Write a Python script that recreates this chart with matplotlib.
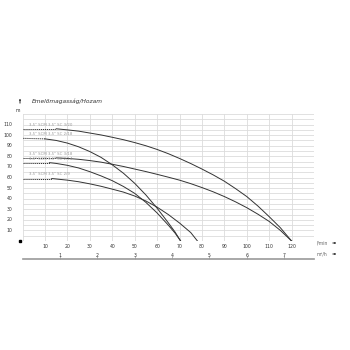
import numpy as np
import matplotlib
matplotlib.use("Agg")
import matplotlib.pyplot as plt

# pump curves, flow in l/min, head in m
labels = ['3,5" SCM 3,5" SC 3/20', '3,5" SCM 3,5" SC 2/18', '3,5" SCM 3,5" SC 3/18',
          '3,5" SCM 3,5" SC 2/14', '3,5" SCM 3,5" SC 2/9']
shutoff = [106, 97, 78.5, 74, 59]
dot_end = [15, 10, 15, 12, 13]

q_a = [15, 20, 25, 30, 35, 40, 45, 50, 55, 60, 65, 70, 75, 80, 85, 90, 95, 100, 105, 110, 115, 120]
h_a = [106, 105, 103.8, 102, 100.2, 98, 95.7, 93, 90, 86.5, 82.5, 78, 73.2, 68, 62.5, 56.5, 49.5,
       42, 33, 23, 12.5, 0]
q_b = [10, 15, 20, 25, 30, 35, 40, 45, 50, 55, 60, 65, 68, 70.5]
h_b = [96.5, 95, 92.5, 89, 84.5, 79, 72, 64, 54.5, 43.5, 31, 17.2, 8.5, 0]
q_c = [15, 20, 25, 30, 35, 40, 45, 50, 55, 60, 65, 70, 75, 80, 85, 90, 95, 100, 105, 110, 115, 120]
h_c = [78.5, 78, 77.2, 76, 74.5, 72.5, 70.4, 68, 65.6, 63, 60.3, 57.5, 54.2, 50.5, 46.5, 42, 37,
       31.5, 25.3, 18.5, 10, 0]
q_d = [12, 15, 20, 25, 30, 35, 40, 45, 50, 55, 60, 65, 68, 70.5]
h_d = [74, 73.3, 71.5, 69, 65.5, 61.5, 57, 51.5, 45, 36.5, 26.5, 15, 7.5, 0]
q_e = [13, 20, 25, 30, 35, 40, 45, 50, 55, 60, 65, 70, 75, 78]
h_e = [59, 57.5, 56, 54, 51.7, 49, 46.2, 42.5, 37.8, 32, 25, 17, 8, 0]
curves = [(q_a, h_a), (q_b, h_b), (q_c, h_c), (q_d, h_d), (q_e, h_e)]

xticks = list(range(10, 130, 10))
yticks = list(range(10, 120, 10))
m3h_ticks = [1, 2, 3, 4, 5, 6, 7]
LPM_PER_M3H = 1000 / 60

fig = plt.figure(figsize=(3.5, 3.5), dpi=100)
ax = fig.add_axes([0.0646, 0.3114, 0.8326, 0.3629])
ax.set_xlim(0, 130)
ax.set_ylim(0, 120)
for s in ax.spines.values():
    s.set_visible(False)
ax.set_xticks(np.arange(0, 131, 10))
ax.set_yticks(np.arange(0, 121, 5))
ax.grid(True, color="#dcdcdc", lw=0.6)
ax.tick_params(length=0, labelbottom=False, labelleft=False)

for x in xticks:
    ax.text(x, -2.5, str(x), ha="center", va="top", fontsize=3.3, color="#333333")
for y in yticks:
    ax.text(-4.5, y, str(y), ha="right", va="center", fontsize=3.3, color="#333333")
ax.plot([-1.2], [0], marker="s", ms=1.6, color="black", clip_on=False)

for (q, h), h0, d, lab in zip(curves, shutoff, dot_end, labels):
    ax.plot([0, d], [h0, h[0]], ls=(0, (1.2, 0.8)), color="#333333", lw=0.7)
    ax.plot(q, h, color="#333333", lw=0.7)
    ax.text(3, h0 + 2, lab, fontsize=2.8, color="#999999", va="bottom", ha="left")

# second flow scale in m3/h
ax2 = fig.add_axes([0.0646, 1 - 259 / 350, 0.8326, 0.0001])
ax2.set_xlim(0, 130 / LPM_PER_M3H)
ax2.set_ylim(0, 1)
for k in ["top", "left", "right"]:
    ax2.spines[k].set_visible(False)
ax2.spines["bottom"].set_color("#999999")
ax2.spines["bottom"].set_linewidth(1.2)
ax2.set_yticks([])
ax2.set_xticks(m3h_ticks)
ax2.tick_params(axis="x", direction="in", length=2, width=0.5, color="#999999",
                labelbottom=False, labeltop=True, top=False, bottom=True,
                labelsize=3.3, labelcolor="#333333", pad=1)

fig.text(32 / 350, 1 - 101 / 350, "Emelőmagasság/Hozam", fontsize=4.2,
         style="italic", color="#333333", va="center")
fig.text(16 / 350, 1 - 110 / 350, "m", fontsize=3.3, color="#333333", va="center")
fig.text(317 / 350, 1 - 243 / 350, "l/min", fontsize=3.3, color="#666666", va="center")
fig.text(317 / 350, 1 - 254 / 350, "m³/h", fontsize=3.3, color="#666666", va="center")
arrow = dict(arrowstyle="-|>,head_length=0.4,head_width=0.2", color="black", lw=0.6)
fig.add_artist(matplotlib.patches.FancyArrowPatch((330 / 350, 1 - 243 / 350), (339 / 350, 1 - 243 / 350),
                                                  transform=fig.transFigure, **arrow))
fig.add_artist(matplotlib.patches.FancyArrowPatch((330 / 350, 1 - 254 / 350), (339 / 350, 1 - 254 / 350),
                                                  transform=fig.transFigure, **arrow))
fig.add_artist(matplotlib.patches.FancyArrowPatch((20 / 350, 1 - 106 / 350), (20 / 350, 1 - 96 / 350),
                                                  transform=fig.transFigure, **arrow))

fig.savefig("out.png", dpi=100, facecolor="white")
